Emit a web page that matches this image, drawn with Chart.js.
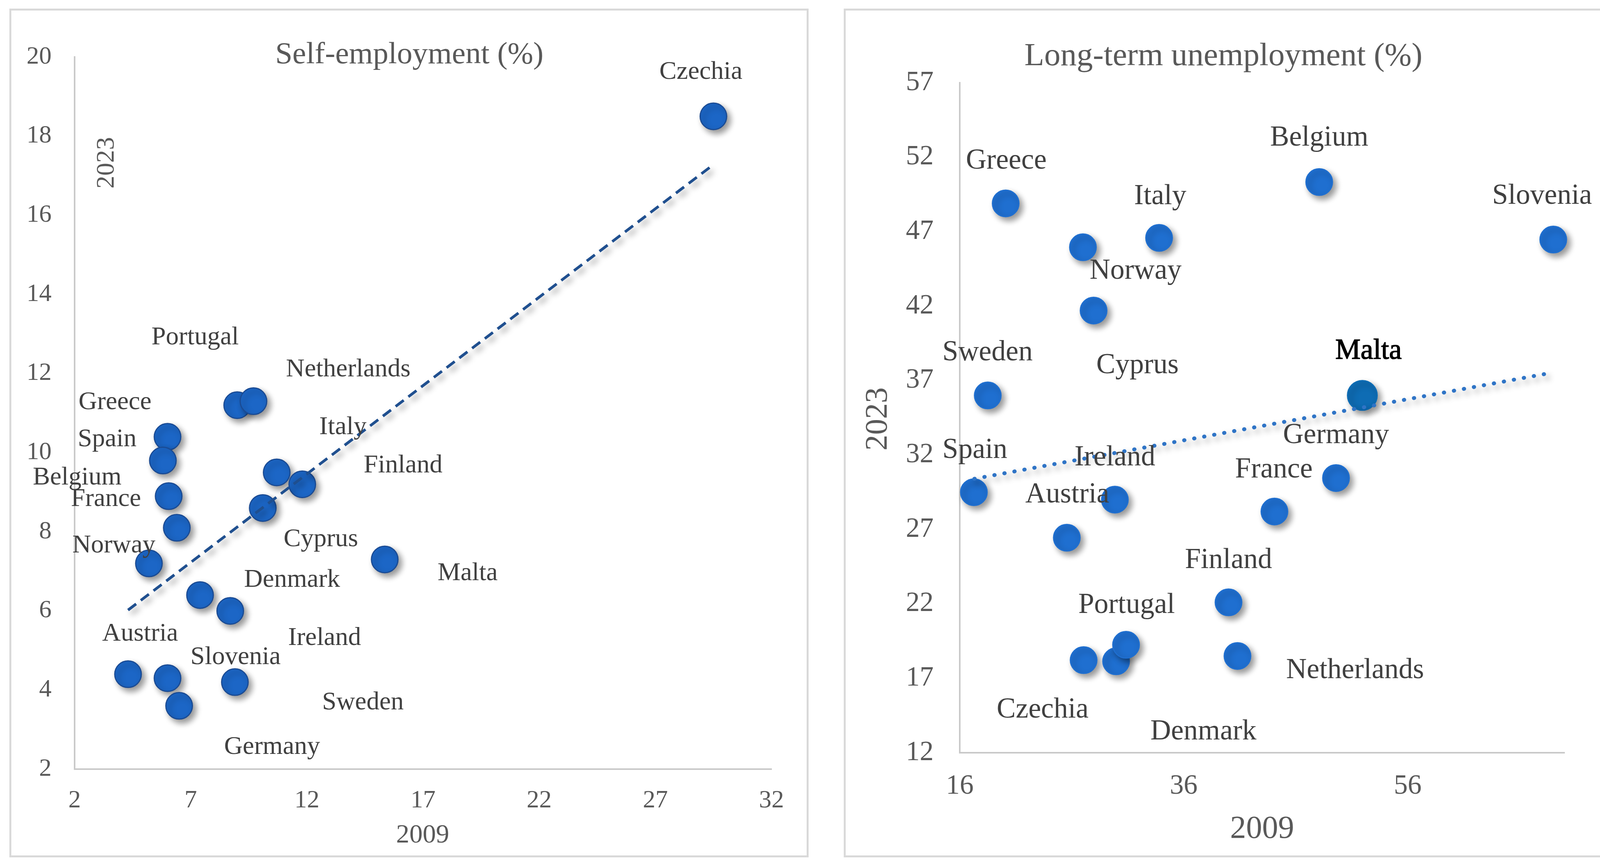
<!DOCTYPE html>
<html>
<head>
<meta charset="utf-8">
<script src="https://cdn.jsdelivr.net/npm/chart.js@4.4.1/dist/chart.umd.min.js"></script>
<style>
  body { margin: 0; background: #fff; width: 4131px; height: 2213px; position: relative; overflow: hidden; }
  .panel { position: absolute; border: 5px solid #d9d9d9; box-sizing: border-box; }
  canvas { position: absolute; top: 0; }
</style>
</head>
<body>
<div class="panel" style="left:24px;top:22px;width:2046px;height:2174px"></div>
<div class="panel" style="left:2160px;top:22px;width:1948px;height:2174px"></div>
<canvas id="selfEmp" width="2100" height="2213" style="left:0"></canvas>
<canvas id="longUnemp" width="2031" height="2213" style="left:2100px"></canvas>
<script>
// Self-employment (%) : 2009 vs 2023
const selfCountries = ['Czechia', 'Portugal', 'Netherlands', 'Greece', 'Spain', 'Belgium', 'France', 'Norway', 'Italy',
  'Finland', 'Cyprus', 'Malta', 'Denmark', 'Ireland', 'Austria', 'Slovenia', 'Sweden', 'Germany'];
const self2009 = [29.5, 9.0, 9.7, 6.0, 5.8, 6.05, 6.4, 5.2, 10.7, 11.8, 10.1, 15.35, 7.4, 8.7, 4.3, 6.0, 8.9, 6.5];
const self2023 = [18.5, 11.2, 11.3, 10.4, 9.8, 8.9, 8.1, 7.2, 9.5, 9.2, 8.6, 7.3, 6.4, 6.0, 4.4, 4.3, 4.2, 3.6];
const selfTrendX = [4.3, 29.5];
const selfTrendY = [6.02, 17.28];
const selfTicksX = [2, 7, 12, 17, 22, 27, 32];
const selfTicksY = [2, 4, 6, 8, 10, 12, 14, 16, 18, 20];

// Long-term unemployment (%) : 2009 vs 2023
const ltuCountries = ['Greece', 'Norway', 'Italy', 'Belgium', 'Slovenia', 'Cyprus', 'Sweden', 'Malta', 'Spain',
  'Ireland', 'France', 'Germany', 'Austria', 'Finland', 'Czechia', 'Denmark', 'Portugal', 'Netherlands'];
const ltu2009 = [20.1, 27.0, 33.8, 48.1, 69.0, 27.95, 18.5, 51.95, 17.26, 29.85, 44.1, 49.6, 25.56, 40.0, 27.06, 29.96, 30.85, 40.8];
const ltu2023 = [48.9, 45.95, 46.58, 50.33, 46.47, 41.7, 36.0, 36.0, 29.5, 29.0, 28.2, 30.45, 26.44, 22.1, 18.22, 18.14, 19.25, 18.5];
const ltuTrendX = [17.3, 68.7];
const ltuTrendY = [30.4, 37.5];
const ltuTicksX = [16, 36, 56];
const ltuTicksY = [12, 17, 22, 27, 32, 37, 42, 47, 52, 57];

// where each data label sits (in axis units), same order as the country lists
const selfLabelAt = [[28.96, 19.62], [7.19, 12.91], [13.78, 12.1], [3.74, 11.27], [3.4, 10.33], [2.11, 9.37],
  [3.35, 8.82], [3.69, 7.65], [13.55, 10.64], [16.14, 9.67], [12.6, 7.81], [18.92, 6.95], [11.36, 6.78],
  [12.76, 5.31], [4.82, 5.42], [8.93, 4.83], [14.41, 3.68], [10.5, 2.56]];
const ltuLabelAt = [[20.15, 51.74], [31.7, 44.35], [33.9, 49.35], [48.1, 53.27], [68.0, 49.37], [31.87, 38.0],
  [18.48, 38.85], [52.5, 38.96], [17.35, 32.3], [29.85, 31.81], [44.05, 31.0], [49.6, 33.3], [25.6, 29.3],
  [40.0, 24.9], [23.4, 14.85], [37.76, 13.4], [30.9, 21.9], [51.3, 17.52]];

const SERIF = '"Liberation Serif", "Times New Roman", serif';

// Excel-style soft shadow under every mark
const shadow = {
  id: 'shadow',
  beforeDatasetDraw(chart) {
    const c = chart.ctx;
    c.save();
    c.shadowColor = 'rgba(0, 0, 0, 0.42)';
    c.shadowBlur = 16;
    c.shadowOffsetX = 8;
    c.shadowOffsetY = 9;
  },
  afterDatasetDraw(chart) {
    chart.ctx.restore();
  }
};

// title, axis titles and country labels
const annotate = {
  id: 'annotate',
  afterDraw(chart, args, o) {
    const { ctx, scales: { x, y } } = chart;
    ctx.save();
    ctx.textAlign = 'center';
    ctx.textBaseline = 'middle';
    ctx.fillStyle = '#595959';
    ctx.font = o.titleSize + 'px ' + SERIF;
    ctx.fillText(o.title, o.titleAt[0], o.titleAt[1]);
    ctx.font = o.xTitleSize + 'px ' + SERIF;
    ctx.fillText('2009', o.xTitleAt[0], o.xTitleAt[1]);
    ctx.save();
    ctx.translate(o.yTitleAt[0], o.yTitleAt[1]);
    ctx.rotate(-Math.PI / 2);
    ctx.font = o.yTitleSize + 'px ' + SERIF;
    ctx.fillText('2023', 0, 0);
    ctx.restore();

    o.names.forEach((name, i) => {
      const px = x.getPixelForValue(o.labelAt[i][0]);
      const py = y.getPixelForValue(o.labelAt[i][1]);
      ctx.font = o.labelSize + 'px ' + SERIF;
      if (name === o.highlight) {
        ctx.fillStyle = '#000';
        ctx.strokeStyle = '#000';
        ctx.lineWidth = 1.5;
        ctx.strokeText(name, px, py);
      } else {
        ctx.fillStyle = '#404040';
      }
      ctx.fillText(name, px, py);
    });
    ctx.restore();
  }
};

function axis(min, max, ticks, size, pad, fitKey, fitVal) {
  return {
    type: 'linear',
    min: min,
    max: max,
    afterBuildTicks: s => { s.ticks = ticks.map(v => ({ value: v })); },
    afterFit: s => { s[fitKey] = fitVal; },
    grid: { display: false, drawTicks: false },
    border: { display: true, color: '#c9c9c9', width: 4 },
    ticks: { color: '#595959', padding: pad, font: { family: SERIF, size: size } }
  };
}

function buildChart(id, s) {
  const pts = s.xs.map((v, i) => ({ x: v, y: s.ys[i] }));
  const big = ctx => s.names[ctx.dataIndex] === s.highlight;
  return new Chart(document.getElementById(id), {
    type: 'scatter',
    data: {
      datasets: [
        {
          type: 'line',
          data: s.trendX.map((v, i) => ({ x: v, y: s.trendY[i] })),
          borderColor: s.trendColor,
          borderWidth: s.trendWidth,
          borderDash: s.trendDash,
          borderCapStyle: s.trendCap,
          pointRadius: 0,
          fill: false,
          clip: false,
          order: 0
        },
        {
          data: pts,
          pointRadius: ctx => big(ctx) ? 38 : 34,
          backgroundColor: ctx => big(ctx) ? '#0e6cb4' : s.fill,
          borderColor: ctx => big(ctx) ? '#0e6cb4' : s.edge,
          borderWidth: 3,
          clip: false,
          order: 1
        }
      ]
    },
    options: {
      responsive: false,
      animation: false,
      devicePixelRatio: 1,
      layout: { padding: { top: s.top, right: s.right, left: 0, bottom: 0 } },
      plugins: {
        legend: { display: false },
        tooltip: { enabled: false },
        annotate: s.notes
      },
      scales: {
        x: axis(s.xMin, s.xMax, s.ticksX, s.tickSize, s.xPad, 'height', s.xAxisH),
        y: axis(s.yMin, s.yMax, s.ticksY, s.tickSize, s.yPad, 'width', s.yAxisW)
      }
    },
    plugins: [shadow, annotate]
  });
}

buildChart('selfEmp', {
  xs: self2009, ys: self2023, names: selfCountries, highlight: null,
  trendX: selfTrendX, trendY: selfTrendY,
  trendColor: '#1f4f8f', trendWidth: 7, trendDash: [26, 15], trendCap: 'butt',
  fill: '#1c66c6', edge: '#1a4b94',
  xMin: 2, xMax: 32, yMin: 2, yMax: 20, ticksX: selfTicksX, ticksY: selfTicksY,
  tickSize: 64, xPad: 43, yPad: 59,
  top: 146, right: 125, xAxisH: 243, yAxisW: 191,
  notes: {
    title: 'Self-employment (%)', titleAt: [1048, 141], titleSize: 79,
    xTitleAt: [1082, 2140], xTitleSize: 68,
    yTitleAt: [274, 417], yTitleSize: 66,
    names: selfCountries, labelAt: selfLabelAt, labelSize: 66, highlight: null
  }
});

buildChart('longUnemp', {
  xs: ltu2009, ys: ltu2023, names: ltuCountries, highlight: 'Malta',
  trendX: ltuTrendX, trendY: ltuTrendY,
  trendColor: '#2f74c6', trendWidth: 10, trendDash: [1, 25], trendCap: 'round',
  fill: '#1f6fd0', edge: '#1f6fd0',
  xMin: 16, xMax: 70, yMin: 12, yMax: 57, ticksX: ltuTicksX, ticksY: ltuTicksY,
  tickSize: 71, xPad: 44, yPad: 67,
  top: 212, right: 126, xAxisH: 285, yAxisW: 357,
  notes: {
    title: 'Long-term unemployment (%)', titleAt: [1032, 145], titleSize: 83,
    xTitleAt: [1131, 2124], xTitleSize: 82,
    yTitleAt: [149, 1073], yTitleSize: 81,
    names: ltuCountries, labelAt: ltuLabelAt, labelSize: 73, highlight: 'Malta'
  }
});
</script>
</body>
</html>
